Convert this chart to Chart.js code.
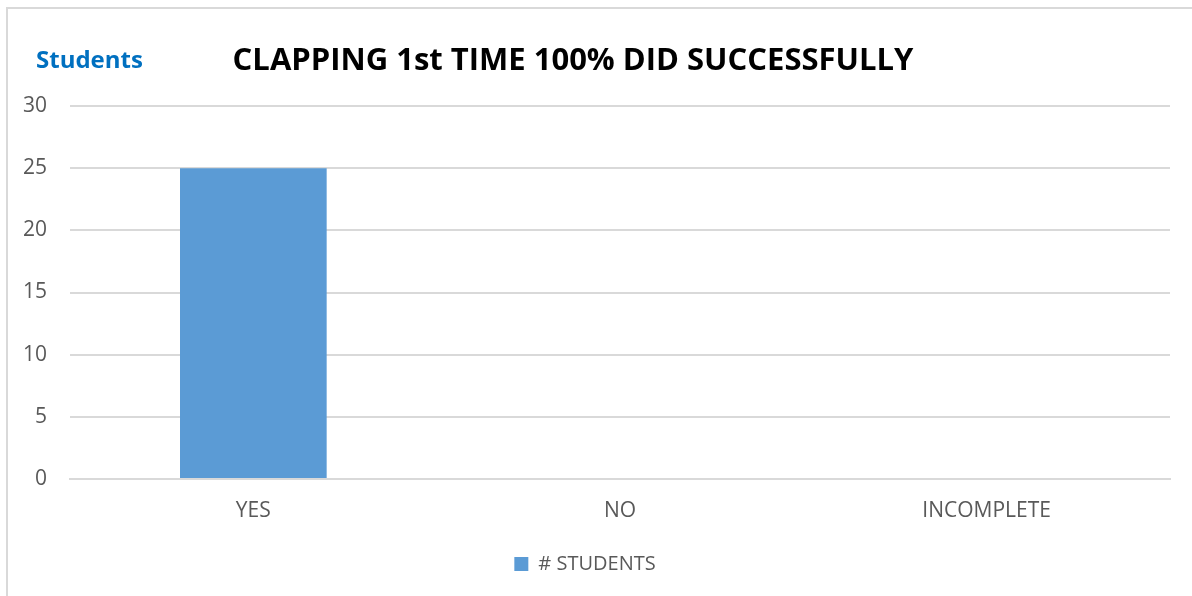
<!DOCTYPE html>
<html>
<head>
<meta charset="utf-8">
<script src="https://cdn.jsdelivr.net/npm/chart.js@4"></script>
<style>
    html, body { margin: 0; padding: 0; background: #fff; overflow: hidden; }
    #wrap { position: relative; width: 1192px; height: 596px; }
    #frame { position: absolute; left: 6px; top: 7px; width: 1200px; height: 600px; border: 2px solid #d9d9d9; box-sizing: border-box; }
    canvas { position: absolute; left: 0; top: 0; }
</style>
</head>
<body>
<div id="wrap">
    <div id="frame"></div>
    <canvas id="chart" width="1192" height="596"></canvas>
</div>
<script>
const categories = ['YES', 'NO', 'INCOMPLETE'];
const studentCounts = [25, 0, 0];
const seriesLabel = '# STUDENTS';
const yTicks = [0, 5, 10, 15, 20, 25, 30];

const chartTitle = 'CLAPPING 1st TIME 100% DID SUCCESSFULLY';
const axisCaption = 'Students';

const FONT = "'Open Sans', 'Noto Sans', sans-serif";
const GRID = '#d9d9d9';
const TEXT = '#595959';

// title and the small caption above the value axis
const headerPlugin = {
    id: 'header',
    afterDraw(chart) {
        const ctx = chart.ctx;
        ctx.save();
        ctx.textBaseline = 'middle';
        ctx.fillStyle = '#0070c0';
        ctx.font = `bold 24px ${FONT}`;
        ctx.textAlign = 'left';
        ctx.fillText(axisCaption, 36, 61);
        ctx.fillStyle = '#000';
        ctx.font = `bold 31px ${FONT}`;
        ctx.textAlign = 'center';
        ctx.fillText(chartTitle, 573, 61);
        ctx.restore();
    }
};

new Chart(document.getElementById('chart'), {
    type: 'bar',
    data: {
        labels: categories,
        datasets: [{
            label: seriesLabel,
            data: studentCounts,
            backgroundColor: '#5b9bd5',
            categoryPercentage: 0.4,
            barPercentage: 1.0
        }]
    },
    options: {
        responsive: false,
        animation: false,
        layout: { padding: { left: 0, right: 22, top: 106, bottom: 12 } },
        scales: {
            x: {
                grid: { display: false, drawTicks: false },
                border: { display: true, color: GRID, width: 2 },
                ticks: { color: TEXT, font: { family: FONT, size: 21 }, padding: 19 },
                afterFit(scale) { scale.height = 65; }
            },
            y: {
                min: 0,
                max: 30,
                afterBuildTicks(scale) { scale.ticks = yTicks.map(v => ({ value: v })); },
                grid: { color: GRID, lineWidth: 2, drawTicks: false },
                border: { display: false },
                ticks: { color: TEXT, font: { family: FONT, size: 21 }, padding: 23 },
                afterFit(scale) { scale.width = 70; }
            }
        },
        plugins: {
            legend: {
                position: 'bottom',
                labels: {
                    color: TEXT,
                    font: { family: FONT, size: 20 },
                    boxWidth: 14,
                    boxHeight: 14,
                    padding: 10
                }
            },
            tooltip: { enabled: false }
        }
    },
    plugins: [headerPlugin]
});
</script>
</body>
</html>
